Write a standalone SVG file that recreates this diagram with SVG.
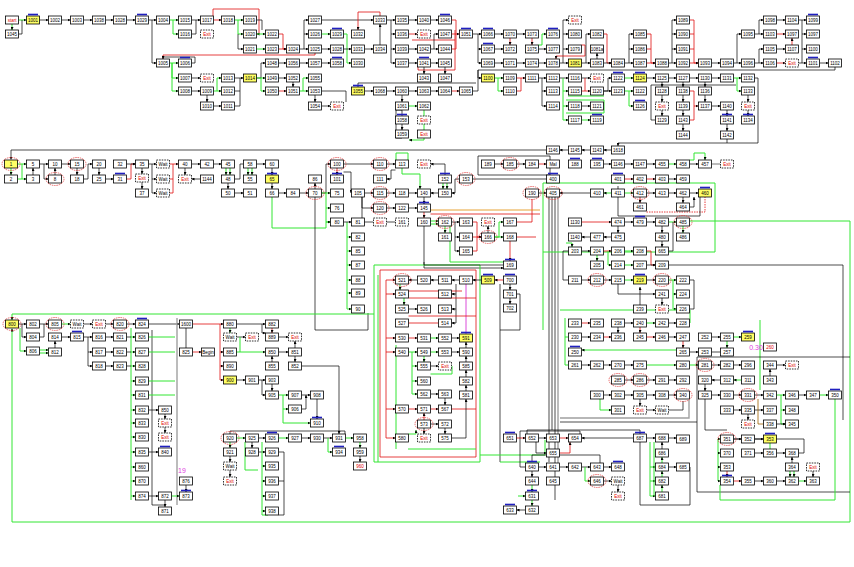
<svg xmlns="http://www.w3.org/2000/svg" xmlns:xlink="http://www.w3.org/1999/xlink" width="854" height="567" viewBox="0 0 854 567">
<style>
.n{fill:#fff;stroke:#000;stroke-width:.8}
text{font-family:"Liberation Sans",Arial,sans-serif;font-size:4.5px;text-anchor:middle;dominant-baseline:central;fill:#000}
.rt{fill:#e00000}
.pk{fill:#e040e0;font-size:7px}
.k,.kn{fill:none;stroke:#000;stroke-width:.7}
.g,.gn{fill:none;stroke:#33e633;stroke-width:1}
.r,.rn{fill:none;stroke:#e01010;stroke-width:.8}
.gy{fill:none;stroke:#a0a0a0;stroke-width:1.4}
.k,.g,.r{marker-end:url(#a)}
</style>
<defs>
<marker id="a" viewBox="0 0 6 6" refX="6" refY="3" markerWidth="3" markerHeight="3" orient="auto" markerUnits="userSpaceOnUse"><path d="M0,0L6,3L0,6z" fill="#000"/></marker>
<rect id="b" class="n" x="-6.5" y="-4" width="13" height="8"/>
<rect id="y" x="-6.5" y="-4" width="13" height="8" fill="#ffff66" stroke="#000" stroke-width=".8"/>
<rect id="d" x="-6.5" y="-4" width="13" height="8" fill="#fff" stroke="#000" stroke-width=".8" stroke-dasharray="1.6 1"/>
<ellipse id="e" rx="9" ry="6.5" fill="none" stroke="#e03030" stroke-width=".7" stroke-dasharray="1.5 .8"/>
<rect id="h" x="-5" y="-6.3" width="10" height="1.6" fill="#2020c0"/>
</defs>
<rect width="854" height="567" fill="#fff"/>
<g id="connectors">
<path class="g" d="M18.5,20H26.5"/><path class="g" d="M12,24V30"/><path class="kn" d="M18.5,34H22V20"/>
<path class="k" d="M39.5,20H48.5"/><path class="k" d="M61.5,20H70.5"/><path class="k" d="M83.5,20H92.5"/><path class="k" d="M105.5,20H113.5"/><path class="k" d="M126.5,20H135.5"/><path class="k" d="M148.5,20H156.5"/>
<path class="g" d="M169.5,20H178.5"/><path class="g" d="M173,20V34H178.5"/><path class="k" d="M152,20V63H156.5"/>
<path class="k" d="M191.5,20H200.5"/><path class="kn" d="M191.5,34H196V20"/>
<path class="r" d="M213.5,20H221.5"/><path class="r" d="M213,16V9H259V34H256.5"/>
<path class="g" d="M234.5,20H243.5"/><path class="g" d="M238,20V34H243.5"/><path class="k" d="M238,34V49H243.5"/>
<path class="kn" d="M256.5,20H262V30"/><path class="g" d="M256.5,34H265.5"/><path class="g" d="M256.5,49H265.5"/>
<path class="r" d="M278.5,34H283V49H286.5"/><path class="r" d="M278.5,49H286.5"/><path class="k" d="M299.5,49H308.5"/>
<path class="k" d="M304,49V20H308.5"/><path class="k" d="M304,34H308.5"/><path class="g" d="M321.5,34H330.5"/>
<path class="k" d="M321.5,20H373.5"/><path class="k" d="M321.5,49H330.5"/><path class="r" d="M315,53V55H163V59"/>
<path class="g" d="M169.5,63H178.5"/><path class="g" d="M172,63V78H178.5"/><path class="g" d="M172,63V91H178.5"/>
<path class="kn" d="M191.5,63H195V57H163V59"/>
<path class="k" d="M191.5,78H200.5"/><path class="k" d="M191.5,91H200.5"/><path class="k" d="M207,95V102"/>
<path class="g" d="M213.5,91H221.5"/><path class="g" d="M217,91V78H221.5"/><path class="k" d="M213.5,106H221.5"/>
<path class="kn" d="M234.5,106H240V78"/><path class="kn" d="M234.5,91H240"/><path class="k" d="M234.5,78H243.5"/>
<path class="k" d="M256.5,78H261V63H265.5"/><path class="g" d="M256.5,78H265.5"/><path class="g" d="M261,78V91H265.5"/>
<path class="k" d="M278.5,63H286.5"/><path class="k" d="M299.5,63H308.5"/><path class="k" d="M321.5,63H330.5"/>
<path class="k" d="M278.5,78H286.5"/><path class="r" d="M278.5,91H286.5"/>
<path class="g" d="M299.5,91H308.5"/><path class="g" d="M303,91V78H308.5"/><path class="k" d="M315,95V102"/><path class="k" d="M293,82V87"/>
<path class="k" d="M321.5,106H330.5"/><path class="kn" d="M321.5,91H346V102"/>
<path class="g" d="M343.5,34H347V63H351.5"/><path class="k" d="M343.5,49H351.5"/><path class="k" d="M364.5,49H373.5"/><path class="k" d="M380,45V24"/>
<path class="r" d="M358,25V30"/><path class="rn" d="M358,25V12H380V16"/>
<path class="k" d="M386.5,20H395.5"/><path class="k" d="M391,20V63H395.5"/><path class="k" d="M391,34H395.5"/><path class="k" d="M391,49H395.5"/>
<path class="k" d="M408.5,20H417.5"/><path class="r" d="M408.5,34H417.5"/><path class="k" d="M408.5,49H417.5"/><path class="k" d="M408.5,63H417.5"/>
<path class="rn" d="M412,40H455"/><path class="rn" d="M455,30V70H418V67"/>
<path class="k" d="M430.5,20H438.5"/><path class="k" d="M430.5,49H438.5"/><path class="k" d="M434,49V34H438.5"/><path class="k" d="M430.5,63H438.5"/>
<path class="k" d="M424,67V74"/><path class="k" d="M445,67V74"/>
<path class="r" d="M451.5,34H459.5"/><path class="rn" d="M451.5,49H456V20H451.5"/>
<path class="k" d="M472.5,34H481.5"/><path class="kn" d="M478,34V63"/><path class="k" d="M478,49H481.5"/><path class="k" d="M478,63H481.5"/>
<path class="k" d="M494.5,34H503.5"/><path class="k" d="M494.5,63H503.5"/><path class="k" d="M516.5,63H525.5"/><path class="k" d="M516.5,34H525.5"/>
<path class="r" d="M510,38V45"/><path class="r" d="M532,38V45"/><path class="k" d="M538.5,49H546.5"/><path class="g" d="M538.5,45H542V34H546.5"/>
<path class="k" d="M538.5,63H546.5"/><path class="k" d="M494.5,49H503.5"/>
<path class="k" d="M559.5,63H568.5"/><path class="k" d="M563,63V20H568.5"/><path class="k" d="M563,34H568.5"/><path class="k" d="M563,49H568.5"/>
<path class="r" d="M581.5,45H585V56H556V59"/>
<path class="k" d="M581.5,63H590.5"/><path class="k" d="M586,63V34H590.5"/><path class="k" d="M597,59V53"/>
<path class="r" d="M603.5,34H607V63H611.5"/><path class="k" d="M603.5,63H611.5"/>
<path class="k" d="M624.5,63H633.5"/><path class="k" d="M629,63V34H633.5"/><path class="k" d="M629,49H633.5"/>
<path class="r" d="M646.5,34H651V63H655.5"/><path class="rn" d="M646.5,49H651"/><path class="r" d="M646.5,63H655.5"/>
<path class="k" d="M668.5,63H676.5"/><path class="k" d="M672,63V20H676.5"/><path class="k" d="M672,34H676.5"/><path class="k" d="M672,49H676.5"/>
<path class="r" d="M689.5,20H694V63H698.5"/><path class="rn" d="M689.5,34H694"/><path class="rn" d="M689.5,49H694"/><path class="r" d="M689.5,63H698.5"/>
<path class="k" d="M711.5,63H720.5"/><path class="k" d="M733.5,63H741.5"/><path class="k" d="M737,63V34H741.5"/>
<path class="k" d="M754.5,34H763.5"/><path class="k" d="M759,34V20H763.5"/><path class="k" d="M754.5,63H763.5"/><path class="k" d="M759,63V49H763.5"/>
<path class="k" d="M776.5,20H785.5"/><path class="r" d="M776.5,34H785.5"/><path class="k" d="M776.5,49H785.5"/><path class="r" d="M792,45V38"/><path class="r" d="M776.5,63H785.5"/>
<path class="k" d="M798.5,20H806.5"/><path class="kn" d="M802,20V63"/><path class="k" d="M802,34H806.5"/><path class="k" d="M802,49H806.5"/><path class="k" d="M798.5,63H806.5"/>
<path class="k" d="M819.5,63H828.5"/><path class="k" d="M835,67V70H478V78H481.5"/>
<path class="g" d="M494.5,78H503.5"/><path class="g" d="M498,78V91H503.5"/><path class="r" d="M516.5,78H525.5"/><path class="rn" d="M516.5,91H521V78"/>
<path class="k" d="M538.5,78H546.5"/><path class="k" d="M542,78V106H546.5"/><path class="k" d="M542,91H546.5"/>
<path class="k" d="M559.5,78H568.5"/><path class="g" d="M563,78V120H568.5"/><path class="g" d="M563,91H568.5"/><path class="g" d="M563,106H568.5"/>
<path class="k" d="M581.5,78H590.5"/><path class="r" d="M581.5,91H590.5"/><path class="rn" d="M585,78V91"/><path class="k" d="M581.5,106H590.5"/><path class="g" d="M581.5,120H590.5"/>
<path class="gn" d="M566,100H604V113H566"/><path class="gn" d="M568,96H604"/>
<path class="k" d="M603.5,91H608V78H611.5"/><path class="k" d="M603.5,91H611.5"/>
<path class="g" d="M624.5,78H633.5"/><path class="g" d="M624.5,91H633.5"/><path class="g" d="M629,91V106H633.5"/>
<path class="k" d="M646.5,78H655.5"/><path class="k" d="M668.5,78H676.5"/><path class="k" d="M689.5,78H698.5"/><path class="k" d="M711.5,78H720.5"/>
<path class="g" d="M733.5,78H741.5"/><path class="g" d="M737,78V91H741.5"/>
<path class="k" d="M662,82V87"/><path class="k" d="M662,95V102"/><path class="k" d="M662,110V116"/>
<path class="kn" d="M655.5,120H651V85H736"/>
<path class="k" d="M683,82V87"/><path class="k" d="M683,95V102"/><path class="k" d="M683,110V116"/><path class="k" d="M683,124V131"/>
<path class="r" d="M689.5,91H694V106H698.5"/><path class="rn" d="M689.5,120H694V106"/>
<path class="k" d="M705,82V87"/><path class="k" d="M705,95V102"/><path class="k" d="M711.5,106H720.5"/><path class="k" d="M727,110V116"/><path class="k" d="M727,124V131"/>
<path class="k" d="M748,95V102"/><path class="k" d="M748,110V116"/>
<path class="kn" d="M754.5,78H758V143H727"/><path class="k" d="M727,139V143H618V146"/>
<path class="k" d="M611.5,150H603.5"/><path class="k" d="M590.5,150H581.5"/><path class="k" d="M568.5,150H559.5"/>
<path class="k" d="M546.5,150H11V159.5"/>
<path class="kn" d="M402,116V110H396V138H402"/><path class="k" d="M402,124V130"/><path class="g" d="M424,110V140H409"/>
<path class="k" d="M408.5,91H417.5"/><path class="k" d="M386.5,91H395.5"/><path class="k" d="M364.5,91H373.5"/><path class="k" d="M430.5,91H438.5"/><path class="r" d="M451.5,91H459.5"/>
<path class="k" d="M402,95V102"/><path class="g" d="M408.5,106H417.5"/><path class="kn" d="M472.5,91H478V70"/>
<path class="kn" d="M358,87V83H476"/>
<!-- band 2 -->
<path class="g" d="M17.5,164H26.5"/><path class="g" d="M11,168V175"/><path class="g" d="M17.5,179H26.5"/><path class="gn" d="M22,164V179"/><path class="k" d="M33,175V168"/>
<path class="k" d="M39.5,164H48.5"/><path class="k" d="M44,164V179H48.5"/><path class="k" d="M55,175V168"/>
<path class="k" d="M61.5,164H70.5"/><path class="k" d="M77,168V175"/><path class="k" d="M83.5,179H88V164H92.5"/><path class="k" d="M99,168V175"/>
<path class="k" d="M105.5,179H113.5"/><path class="r" d="M126.5,179H131V164H135.5"/><path class="k" d="M126.5,164H135.5"/>
<path class="k" d="M142,168V174"/><path class="k" d="M148.5,164H156.5"/><path class="k" d="M152,164V193H156.5"/><path class="k" d="M152,179H156.5"/><path class="k" d="M142,182V189"/>
<path class="r" d="M169.5,164H178.5"/><path class="rn" d="M169.5,193H173V164"/><path class="rn" d="M169.5,179H173"/>
<path class="k" d="M191.5,164H200.5"/><path class="k" d="M185,168V175"/><path class="k" d="M200.5,179H191.5"/>
<path class="k" d="M213.5,164H221.5"/><path class="g" d="M226,168V175"/><path class="g" d="M230,168V175"/>
<path class="k" d="M228,183V189"/><path class="k" d="M234.5,193H243.5"/><path class="kn" d="M234.5,179H240V164H243.5"/>
<path class="g" d="M248,168V175"/><path class="g" d="M252,168V175"/><path class="k" d="M256.5,164H265.5"/>
<path class="k" d="M272,168V175"/><path class="k" d="M272,183V189"/><path class="k" d="M278.5,193H286.5"/><path class="k" d="M299.5,193H308.5"/>
<path class="g" d="M272,197V228H326V222H330.5"/>
<path class="k" d="M315,189V183"/><path class="k" d="M321.5,193H326V164H330.5"/><path class="g" d="M321.5,193H330.5"/><path class="g" d="M326,193V222H330.5"/><path class="g" d="M326,208H330.5"/>
<path class="k" d="M343.5,164H373.5"/><path class="r" d="M337,168V175"/><path class="k" d="M343.5,172H351V193"/>
<path class="kn" d="M315,197V330H368V313"/><path class="g" d="M347,222V309H351.5"/><path class="g" d="M347,237H351.5"/><path class="g" d="M347,251H351.5"/><path class="g" d="M347,265H351.5"/><path class="g" d="M347,280H351.5"/><path class="g" d="M347,293H351.5"/><path class="k" d="M343.5,222H351.5"/>
<path class="k" d="M386.5,164H395.5"/><path class="k" d="M395.5,170H391V179H386.5"/><path class="gn" d="M396,160V153H408V160"/>
<path class="k" d="M445,175V164H430.5"/>
<path class="g" d="M402,168V174H420V189"/>
<path class="k" d="M364.5,193H373.5"/><path class="k" d="M386.5,193H395.5"/><path class="k" d="M408.5,193H417.5"/>
<path class="k" d="M362,197V208H373.5"/><path class="k" d="M386.5,208H395.5"/><path class="k" d="M408.5,208H417.5"/><path class="k" d="M424,197V204"/>
<path class="kn" d="M362,197V222H373.5"/><path class="kn" d="M386.5,222H395.5"/>
<path class="g" d="M443,183V189"/><path class="g" d="M447,183V189"/><path class="k" d="M438.5,193H430.5"/>
<path class="k" d="M459.5,179H455V193H451.5"/><path class="kn" d="M472.5,179H550"/>
<path class="r" d="M424,212V218"/><path class="g" d="M430.5,221H438.5"/><path class="g" d="M430.5,224H438.5"/><path class="g" d="M445,226V233"/>
<path class="k" d="M451.5,222H459.5"/><path class="k" d="M455,222V251H459.5"/><path class="k" d="M455,237H459.5"/>
<path class="r" d="M472.5,222H477V237H481.5"/><path class="r" d="M472.5,237H481.5"/><path class="rn" d="M472.5,251H477V237"/>
<path class="k" d="M488,233V226"/><path class="g" d="M494.5,237H499V222H503.5"/><path class="g" d="M494.5,237H503.5"/>
<path class="r" d="M510,241V261"/><path class="rn" d="M516.5,222H532V199"/><path class="rn" d="M516.5,237H536"/>
<path class="k" d="M424,226V268H503.5"/><path class="gn" d="M450,226V262H503"/>
<path d="M430.5,210H540" fill="none" stroke="#e08a00" stroke-width=".8"/><path class="rn" d="M430.5,214H540"/>
<path class="k" d="M494.5,164H503.5"/><path class="k" d="M516.5,164H525.5"/><path class="r" d="M538.5,164H546.5"/>
<path class="kn" d="M478,156H550V175H478Z"/>
<path class="k" d="M538.5,193H546.5"/>
<path class="kn" d="M549,197V462"/><path class="kn" d="M552,197V430"/><path class="kn" d="M555,197V500"/><path class="gy" d="M558,197V470"/><path class="gn" d="M543,183V330"/>
<path class="k" d="M603.5,164H611.5"/><path class="k" d="M624.5,164H633.5"/><path class="k" d="M646.5,164H655.5"/><path class="g" d="M668.5,164H676.5"/><path class="k" d="M689.5,164H698.5"/><path class="gy" d="M711.5,164H720.5"/>
<path class="g" d="M689.5,160H694V153H705V160"/>
<path class="r" d="M624.5,179H633.5"/><path class="r" d="M646.5,179H655.5"/><path class="k" d="M668.5,179H676.5"/>
<path class="k" d="M590.5,193H559.5"/><path class="g" d="M611.5,193H603.5"/>
<path class="g" d="M624.5,193H633.5"/><path class="k" d="M646.5,193H655.5"/><path class="k" d="M668.5,193H676.5"/><path class="k" d="M689.5,193H698.5"/><path class="k" d="M683,197V203"/><path class="k" d="M689.5,207H694V197"/>
<path class="r" d="M640,197V203"/><path d="M646.5,212H705V197" fill="none" stroke="#e01010" stroke-width=".8" stroke-dasharray="1.5 1"/>
<path class="kn" d="M618,186V216H700V197"/>
<path class="gn" d="M543,183H715V252H543"/>
<path class="r" d="M581.5,222H611.5"/><path class="k" d="M611.5,237H603.5"/><path class="k" d="M590.5,237H581.5"/>
<path class="k" d="M624.5,222H633.5"/><path class="k" d="M646.5,222H655.5"/><path class="g" d="M668.5,222H676.5"/><path class="g" d="M683,226V233"/><path class="k" d="M662,226V233"/><path class="k" d="M662,241V247"/><path class="k" d="M618,226V233"/>
<path class="kn" d="M668.5,251H673V222"/>
<path class="g" d="M689.5,221H850V522H12V328.5"/>
<path class="k" d="M581.5,251H590.5"/><path class="r" d="M603.5,251H611.5"/><path class="g" d="M624.5,251H633.5"/><path class="r" d="M646.5,251H651V265H655.5"/>
<path class="g" d="M597,255V261"/><path class="g" d="M624.5,265H633.5"/><path class="g" d="M608,251V265H611.5"/><path class="k" d="M646.5,265H655.5"/>
<path class="kn" d="M668.5,265H843V420"/>
<path class="k" d="M581.5,280H590.5"/><path class="k" d="M603.5,280H611.5"/><path class="g" d="M624.5,280H633.5"/><path class="k" d="M646.5,280H655.5"/>
<path class="g" d="M668.5,280H676.5"/><path class="g" d="M673,280V309H676.5"/><path class="g" d="M673,294H676.5"/>
<path class="k" d="M662,298V305"/><path class="k" d="M618,284V294H655.5"/><path class="k" d="M640,305V287"/><path class="kn" d="M689.5,280H694V309H689.5"/>
<path class="kn" d="M568.5,251H563V280H568.5"/><path class="g" d="M566,243H572V247"/>
<!-- middle cluster -->
<path class="rn" d="M380,270H476V457H380Z"/><path class="gn" d="M374,265H480V462H374Z"/><path class="kn" d="M500,284V462"/>
<path class="kn" d="M424,262V265H503.5"/>
<path class="r" d="M503.5,280H494.5"/><path class="k" d="M481.5,280H472.5"/><path class="k" d="M459.5,280H451.5"/><path class="k" d="M438.5,280H430.5"/><path class="k" d="M417.5,280H408.5"/>
<path d="M466,284V334" fill="none" stroke="#d020d0" stroke-width=".8"/>
<path class="k" d="M456,284V323H451.5"/><path class="k" d="M456,294H451.5"/><path class="k" d="M456,309H451.5"/>
<path class="g" d="M400,284V290"/><path class="k" d="M408.5,309H417.5"/><path class="g" d="M404,298V305"/>
<path class="rn" d="M408.5,291H462"/><path class="rn" d="M408.5,298H476"/><path class="rn" d="M408.5,323H438.5"/><path class="rn" d="M408.5,316H476"/>
<path class="r" d="M408.5,338H417.5"/><path class="g" d="M430.5,338H438.5"/><path class="k" d="M451.5,338H459.5"/>
<path class="g" d="M408.5,352H417.5"/><path class="g" d="M430.5,352H438.5"/><path class="k" d="M451.5,352H459.5"/>
<path class="g" d="M424,356V362"/><path class="g" d="M412,352V394H417.5"/><path class="g" d="M412,366H417.5"/><path class="g" d="M412,381H417.5"/>
<path class="k" d="M430.5,366H438.5"/><path class="gn" d="M430.5,374H452V366"/>
<path class="k" d="M466,391V385"/><path class="k" d="M466,377V370"/><path class="k" d="M466,362V356"/><path class="k" d="M466,348V342"/>
<path class="k" d="M430.5,394H438.5"/><path class="k" d="M445,398V405"/>
<path class="r" d="M408.5,409H417.5"/><path class="r" d="M430.5,409H438.5"/><path class="rn" d="M451.5,409H476"/>
<path class="k" d="M430.5,424H438.5"/><path class="r" d="M424,420V413"/><path class="k" d="M424,428V434"/><path class="k" d="M445,428V434"/>
<path class="k" d="M451.5,438H466V399"/><path class="g" d="M408.5,434H416V430"/>
<path class="rn" d="M386,280V438"/><path class="r" d="M386,280H395.5"/><path class="r" d="M386,294H395.5"/><path class="r" d="M386,338H395.5"/><path class="r" d="M386,409H395.5"/><path class="r" d="M386,438H395.5"/><path class="r" d="M386,352H395.5"/>
<path class="gn" d="M378,275V462"/><path class="gn" d="M408,449H476"/><path class="gn" d="M396,345V449"/>
<path class="k" d="M510,284V290"/><path class="k" d="M510,298V304"/><path class="kn" d="M516.5,294H520V330H500"/>
<path class="gn" d="M480,455H545V440"/><path class="gn" d="M500,462H540"/>
<!-- bottom mid -->
<path class="r" d="M516.5,438H525.5"/><path class="k" d="M538.5,438H546.5"/><path class="k" d="M536,442V453H546.5"/><path class="r" d="M559.5,453H570V442"/><path class="r" d="M559.5,438H568.5"/>
<path class="k" d="M633.5,438H581.5"/>
<path class="k" d="M538.5,467H546.5"/><path class="k" d="M559.5,467H568.5"/><path class="k" d="M581.5,467H590.5"/><path class="g" d="M585,467V481H590.5"/>
<path class="k" d="M603.5,467H611.5"/><path class="k" d="M603.5,481H611.5"/><path class="k" d="M618,485V492"/>
<path class="k" d="M532,471V477"/><path class="g" d="M532,485V492"/><path class="g" d="M532,500V506"/><path class="k" d="M525.5,510H516.5"/>
<path class="g" d="M518,496H525.5"/><path class="kn" d="M525.5,467H520V431H580V442"/>
<path class="kn" d="M532,461V455H600V467"/>
<path class="k" d="M646.5,438H655.5"/><path class="k" d="M668.5,438H676.5"/><path class="k" d="M662,449V442"/><path class="g" d="M662,463V457"/><path class="k" d="M668.5,467H676.5"/><path class="g" d="M662,477V471"/><path class="g" d="M662,492V485"/>
<path class="gn" d="M650,442V496"/><path class="g" d="M650,496H655.5"/><path class="g" d="M650,481H655.5"/><path class="g" d="M650,467H655.5"/><path class="gn" d="M654,442V496"/>
<path class="kn" d="M640,442V505H690V467"/><path class="kn" d="M527,438V430H640V434"/>
<!-- lower right -->
<path class="r" d="M581.5,323H590.5"/><path class="k" d="M624.5,323H633.5"/><path class="g" d="M646.5,323H655.5"/><path class="k" d="M668.5,323H676.5"/>
<path class="k" d="M581.5,337H590.5"/><path class="r" d="M603.5,337H611.5"/><path class="k" d="M618,327V333"/>
<path class="r" d="M640,327V333"/><path class="r" d="M646.5,337H655.5"/><path class="k" d="M668.5,337H676.5"/><path class="r" d="M683,341V348"/>
<path class="k" d="M711.5,337H720.5"/><path class="g" d="M733.5,337H741.5"/><path class="g" d="M727,341V348"/>
<path class="g" d="M676.5,350H581.5"/><path class="gn" d="M565,318V365H568.5"/><path class="gn" d="M565,337H568.5"/><path class="gn" d="M560,310H690V323"/>
<path class="k" d="M689.5,352H698.5"/><path class="kn" d="M711.5,352H720.5"/>
<path class="k" d="M581.5,365H590.5"/><path class="k" d="M603.5,365H611.5"/><path class="k" d="M624.5,365H633.5"/><path class="g" d="M646.5,365H676.5"/>
<path class="g" d="M689.5,365H698.5"/><path class="k" d="M711.5,365H720.5"/><path class="k" d="M733.5,365H741.5"/>
<path class="k" d="M776.5,365H785.5"/><path class="k" d="M770,376V369"/>
<path class="k" d="M624.5,380H633.5"/><path class="k" d="M646.5,380H655.5"/><path class="k" d="M668.5,380H676.5"/>
<path class="k" d="M720.5,380H711.5"/><path class="g" d="M741.5,380H733.5"/>
<path class="k" d="M603.5,395H611.5"/><path class="g" d="M600,399V410H611.5"/><path class="k" d="M624.5,395H633.5"/><path class="k" d="M646.5,395H655.5"/><path class="k" d="M668.5,395H676.5"/>
<path class="k" d="M640,399V406"/><path class="k" d="M646.5,410H655.5"/><path class="kn" d="M668.5,410H683V401"/>
<path class="gy" d="M689,400V418H560"/>
<path class="k" d="M711.5,395H720.5"/><path class="k" d="M733.5,395H741.5"/><path class="k" d="M754.5,395H763.5"/><path class="g" d="M776.5,395H785.5"/><path class="k" d="M798.5,395H806.5"/><path class="g" d="M819.5,395H828.5"/>
<path class="g" d="M781,395V410H785.5"/><path class="g" d="M781,410V424H785.5"/>
<path class="k" d="M733.5,410H741.5"/><path class="k" d="M754.5,410H763.5"/><path class="k" d="M776.5,424H785.5"/><path class="k" d="M748,414V420"/>
<path class="k" d="M705,384V391"/><path class="kn" d="M705,399V430H727"/>
<path d="M758,399V424H763.5" fill="none" stroke="#a06000" stroke-width=".8"/>
<path class="gn" d="M760,320V390"/>
<path class="k" d="M733.5,439H741.5"/><path class="k" d="M754.5,439H763.5"/>
<path class="g" d="M718,439V481H720.5"/><path class="g" d="M718,453H720.5"/><path class="g" d="M718,467H720.5"/><path class="g" d="M718,439H720.5"/>
<path class="r" d="M727,471V477"/><path class="r" d="M733.5,481H741.5"/><path class="k" d="M754.5,481H763.5"/><path class="k" d="M776.5,481H785.5"/><path class="g" d="M798.5,481H806.5"/>
<path class="g" d="M790,471V477"/><path class="g" d="M794,471V477"/><path class="k" d="M776.5,453H785.5"/><path class="k" d="M792,463V457"/><path class="k" d="M754.5,453H763.5"/>
<path class="k" d="M813,471V477"/><path class="kn" d="M798.5,453H804V439H727"/>
<path class="kn" d="M560,422H697V492H850"/><path class="kn" d="M697,357H850"/><path class="kn" d="M697,357V422"/>
<path class="gn" d="M835,399V500H720V485"/><path class="gn" d="M770,443V452"/>
<!-- left lower -->
<path class="g" d="M374,314H12V320"/>
<path class="k" d="M18.5,324H26.5"/><path class="k" d="M39.5,324H48.5"/><path class="g" d="M61.5,324H70.5"/><path class="k" d="M83.5,324H92.5"/><path class="k" d="M105.5,324H113.5"/><path class="k" d="M126.5,324H135.5"/><path class="k" d="M148.5,324H179.5"/>
<path class="k" d="M22,324V337H26.5"/><path class="kn" d="M39.5,337H44V324"/>
<path class="g" d="M20,328V351H26.5"/><path class="g" d="M39.5,350H48.5"/><path class="g" d="M39.5,353H48.5"/>
<path class="k" d="M55,348V341"/><path class="k" d="M61.5,337H70.5"/><path class="k" d="M83.5,337H92.5"/><path class="k" d="M88,337V366H92.5"/><path class="k" d="M88,352H92.5"/>
<path class="k" d="M105.5,337H113.5"/><path class="k" d="M105.5,352H113.5"/><path class="k" d="M105.5,366H113.5"/>
<path class="gn" d="M131,328V500"/><path class="g" d="M131,337H135.5"/><path class="g" d="M131,352H135.5"/><path class="g" d="M131,366H135.5"/><path class="g" d="M131,381H135.5"/><path class="g" d="M131,395H135.5"/><path class="g" d="M131,410H135.5"/><path class="g" d="M131,423H135.5"/><path class="g" d="M131,437H135.5"/><path class="g" d="M131,452H135.5"/><path class="g" d="M131,467H135.5"/><path class="g" d="M131,481H135.5"/><path class="g" d="M131,496H135.5"/>
<path class="kn" d="M126.5,337H131"/><path class="kn" d="M126.5,352H131"/><path class="kn" d="M126.5,366H131"/>
<path class="kn" d="M152,330V505H165"/><path class="gy" d="M177,318V505"/>
<path class="k" d="M148.5,410H158.5"/><path class="k" d="M165,414V419"/><path class="k" d="M165,427V433"/><path class="k" d="M148.5,452H158.5"/>
<path class="k" d="M165,500V507"/><path class="g" d="M171.5,496H179.5"/><path class="k" d="M186,485V492"/><path class="k" d="M148.5,496H158.5"/>
<path class="gn" d="M148.5,337H175"/><path class="gn" d="M148.5,352H175"/><path class="gn" d="M148.5,381H175"/><path class="gn" d="M148.5,395H175"/>
<path class="r" d="M192.5,324H223.5"/><path class="rn" d="M220,324V380"/><path class="r" d="M220,352H223.5"/><path class="r" d="M220,366H223.5"/><path class="r" d="M220,380H223.5"/>
<path class="r" d="M192.5,352H201.5"/><path class="kn" d="M186,328V348"/>
<path class="k" d="M236.5,324H265.5"/><path class="k" d="M262,324V333H265.5"/><path class="g" d="M230,328V333"/><path class="k" d="M236.5,337H245.5"/>
<path class="r" d="M272,328V333"/><path class="k" d="M278.5,337H288.5"/>
<path class="k" d="M278.5,352H288.5"/><path class="k" d="M272,362V356"/><path class="g" d="M236.5,352H265.5"/><path class="gn" d="M240,337V352"/>
<path class="k" d="M295,356V362"/><path class="k" d="M295,348V341"/><path class="k" d="M301.5,366H339V434"/>
<path class="k" d="M236.5,380H245.5"/><path class="k" d="M258.5,380H265.5"/><path class="k" d="M262,380V395H265.5"/><path class="k" d="M272,384V391"/>
<path class="g" d="M278.5,395H288.5"/><path class="g" d="M283,395V409H288.5"/><path class="k" d="M301.5,395H310.5"/><path class="k" d="M301.5,409H306V395"/>
<path class="k" d="M317,399V419"/><path class="g" d="M283,409V423H310.5"/>
<path class="g" d="M236.5,438H245.5"/><path class="k" d="M258.5,438H265.5"/><path class="g" d="M278.5,438H288.5"/><path class="k" d="M301.5,438H310.5"/><path class="k" d="M323.5,438H332.5"/><path class="g" d="M345.5,438H353.5"/>
<path class="g" d="M360,442V448"/><path class="k" d="M360,456V462"/><path class="g" d="M328,438V452H332.5"/>
<path class="g" d="M230,442V448"/><path class="k" d="M230,456V462"/><path class="k" d="M230,470V477"/>
<path class="k" d="M252,442V448"/><path class="k" d="M258.5,452H265.5"/>
<path class="gn" d="M262,442V515H268"/><path class="g" d="M262,466H265.5"/><path class="g" d="M262,481H265.5"/><path class="g" d="M262,496H265.5"/><path class="g" d="M262,511H265.5"/>
<path class="kn" d="M278.5,452H284V515H278.5"/><path class="kn" d="M278.5,481H284"/>
<path class="kn" d="M230,434V431H345V434"/><path class="gn" d="M245,442V470H258"/>
</g>
<g id="nodes">
<g id="nstart" transform="translate(12,20)"><use href="#b"/><text class="rt">start</text></g>
<g id="n1001" transform="translate(33,20)"><use href="#y"/><use href="#h"/><text>1001</text></g>
<g id="n1045" transform="translate(12,34)"><use href="#b"/><text>1045</text></g>
<g id="n1002" transform="translate(55,20)"><use href="#b"/><text>1002</text></g>
<g id="n1003" transform="translate(77,20)"><use href="#b"/><text>1003</text></g>
<g id="n1038" transform="translate(99,20)"><use href="#b"/><text>1038</text></g>
<g id="n1028" transform="translate(120,20)"><use href="#b"/><text>1028</text></g>
<g id="n1029" transform="translate(142,20)"><use href="#b"/><use href="#h"/><text>1029</text></g>
<g id="n1004" transform="translate(163,20)"><use href="#b"/><text>1004</text></g>
<g id="n1015" transform="translate(185,20)"><use href="#b"/><text>1015</text></g>
<g id="n1016" transform="translate(185,34)"><use href="#b"/><text>1016</text></g>
<g id="n1017" transform="translate(207,20)"><use href="#b"/><text>1017</text></g>
<g id="x1" transform="translate(207,34)"><use href="#d"/><text class="rt">Exit</text></g>
<g id="n1018" transform="translate(228,20)"><use href="#b"/><text>1018</text></g>
<g id="n1019" transform="translate(250,20)"><use href="#b"/><text>1019</text></g>
<g id="n1020" transform="translate(250,34)"><use href="#b"/><text>1020</text></g>
<g id="n1021" transform="translate(250,49)"><use href="#b"/><text>1021</text></g>
<g id="n1022" transform="translate(272,34)"><use href="#b"/><text>1022</text></g>
<g id="n1023" transform="translate(272,49)"><use href="#b"/><text>1023</text></g>
<g id="n1024" transform="translate(293,49)"><use href="#b"/><text>1024</text></g>
<g id="n1027" transform="translate(315,20)"><use href="#b"/><text>1027</text></g>
<g id="n1026" transform="translate(315,34)"><use href="#b"/><text>1026</text></g>
<g id="n1025" transform="translate(315,49)"><use href="#b"/><text>1025</text></g>
<g id="n1029b" transform="translate(337,34)"><use href="#b"/><use href="#h"/><text>1029</text></g>
<g id="n1028b" transform="translate(337,49)"><use href="#b"/><text>1028</text></g>
<g id="n1005" transform="translate(163,63)"><use href="#b"/><text>1005</text></g>
<g id="n1006" transform="translate(185,63)"><use href="#b"/><use href="#h"/><text>1006</text></g>
<g id="n1007" transform="translate(185,78)"><use href="#b"/><text>1007</text></g>
<g id="x2" transform="translate(207,78)"><use href="#d"/><text class="rt">Exit</text></g>
<g id="n1008" transform="translate(185,91)"><use href="#b"/><text>1008</text></g>
<g id="n1009" transform="translate(207,91)"><use href="#b"/><text>1009</text></g>
<g id="n1010" transform="translate(207,106)"><use href="#b"/><text>1010</text></g>
<g id="n1011" transform="translate(228,106)"><use href="#b"/><text>1011</text></g>
<g id="n1013" transform="translate(228,78)"><use href="#b"/><text>1013</text></g>
<g id="n1012" transform="translate(228,91)"><use href="#b"/><text>1012</text></g>
<g id="n1014" transform="translate(250,78)"><use href="#y"/><text>1014</text></g>
<g id="n1048" transform="translate(272,63)"><use href="#b"/><text>1048</text></g>
<g id="n1049" transform="translate(272,78)"><use href="#b"/><text>1049</text></g>
<g id="n1050" transform="translate(272,91)"><use href="#b"/><text>1050</text></g>
<g id="n1056" transform="translate(293,63)"><use href="#b"/><text>1056</text></g>
<g id="n1052" transform="translate(293,78)"><use href="#b"/><text>1052</text></g>
<g id="n1051" transform="translate(293,91)"><use href="#b"/><text>1051</text></g>
<g id="n1057" transform="translate(315,63)"><use href="#b"/><text>1057</text></g>
<g id="n1055" transform="translate(315,78)"><use href="#b"/><text>1055</text></g>
<g id="n1053" transform="translate(315,91)"><use href="#b"/><text>1053</text></g>
<g id="n1054" transform="translate(315,106)"><use href="#b"/><text>1054</text></g>
<g id="n1058" transform="translate(337,63)"><use href="#b"/><use href="#h"/><text>1058</text></g>
<g id="x3" transform="translate(337,106)"><use href="#d"/><text class="rt">Exit</text></g>
<g id="n1033" transform="translate(380,20)"><use href="#b"/><text>1033</text></g>
<g id="n1032" transform="translate(358,34)"><use href="#b"/><text>1032</text></g>
<g id="n1031" transform="translate(358,49)"><use href="#b"/><text>1031</text></g>
<g id="n1034" transform="translate(380,49)"><use href="#b"/><text>1034</text></g>
<g id="n1030" transform="translate(358,63)"><use href="#b"/><text>1030</text></g>
<g id="n1035" transform="translate(402,20)"><use href="#b"/><text>1035</text></g>
<g id="n1036" transform="translate(402,34)"><use href="#b"/><text>1036</text></g>
<g id="n1039" transform="translate(402,49)"><use href="#b"/><text>1039</text></g>
<g id="n1037" transform="translate(402,63)"><use href="#b"/><text>1037</text></g>
<g id="n1040" transform="translate(424,20)"><use href="#b"/><text>1040</text></g>
<g id="x4" transform="translate(424,34)"><use href="#d"/><text class="rt">Exit</text></g>
<g id="n1042" transform="translate(424,49)"><use href="#b"/><text>1042</text></g>
<g id="n1041" transform="translate(424,63)"><use href="#b"/><use href="#h"/><text>1041</text></g>
<g id="n1043" transform="translate(424,78)"><use href="#b"/><text>1043</text></g>
<g id="n1046" transform="translate(445,20)"><use href="#b"/><use href="#h"/><text>1046</text></g>
<g id="n1047" transform="translate(445,34)"><use href="#b"/><text>1047</text></g>
<g id="n1044" transform="translate(445,49)"><use href="#b"/><text>1044</text></g>
<g id="n1045b" transform="translate(445,63)"><use href="#b"/><text>1045</text></g>
<g id="n1047b" transform="translate(445,78)"><use href="#b"/><text>1047</text></g>
<g id="n1051b" transform="translate(466,34)"><use href="#b"/><use href="#h"/><text>1051</text></g>
<g id="n1066" transform="translate(488,34)"><use href="#b"/><use href="#h"/><text>1066</text></g>
<g id="n1067" transform="translate(488,49)"><use href="#b"/><use href="#h"/><text>1067</text></g>
<g id="n1069" transform="translate(488,63)"><use href="#b"/><text>1069</text></g>
<g id="n1070" transform="translate(510,34)"><use href="#b"/><text>1070</text></g>
<g id="n1072" transform="translate(510,49)"><use href="#b"/><text>1072</text></g>
<g id="n1071" transform="translate(510,63)"><use href="#b"/><text>1071</text></g>
<g id="n1073" transform="translate(532,34)"><use href="#b"/><text>1073</text></g>
<g id="n1075" transform="translate(532,49)"><use href="#b"/><text>1075</text></g>
<g id="n1074" transform="translate(532,63)"><use href="#b"/><text>1074</text></g>
<g id="n1100" transform="translate(488,78)"><use href="#y"/><text>1100</text></g>
<g id="n1109" transform="translate(510,78)"><use href="#b"/><text>1109</text></g>
<g id="n1110" transform="translate(510,91)"><use href="#b"/><text>1110</text></g>
<g id="n1111" transform="translate(532,78)"><use href="#b"/><text>1111</text></g>
<g id="n1055b" transform="translate(358,91)"><use href="#y"/><use href="#h"/><text>1055</text></g>
<g id="n1068" transform="translate(380,91)"><use href="#b"/><text>1068</text></g>
<g id="n1060" transform="translate(402,91)"><use href="#b"/><text>1060</text></g>
<g id="n1061" transform="translate(402,106)"><use href="#b"/><text>1061</text></g>
<g id="n1063" transform="translate(424,91)"><use href="#b"/><text>1063</text></g>
<g id="n1062" transform="translate(424,106)"><use href="#b"/><text>1062</text></g>
<g id="n1064" transform="translate(445,91)"><use href="#b"/><text>1064</text></g>
<g id="n1065" transform="translate(466,91)"><use href="#b"/><text>1065</text></g>
<g id="n1058b" transform="translate(402,120)"><use href="#b"/><use href="#h"/><text>1058</text></g>
<g id="x5" transform="translate(424,120)"><use href="#d"/><text class="rt">Exit</text></g>
<g id="n1059" transform="translate(402,134)"><use href="#b"/><text>1059</text></g>
<g id="x6" transform="translate(424,134)"><use href="#b"/><text class="rt">Exit</text></g>
<g id="n1076" transform="translate(553,34)"><use href="#b"/><use href="#h"/><text>1076</text></g>
<g id="n1077" transform="translate(553,49)"><use href="#b"/><text>1077</text></g>
<g id="n1078" transform="translate(553,63)"><use href="#b"/><text>1078</text></g>
<g id="x7" transform="translate(575,20)"><use href="#d"/><text class="rt">Exit</text></g>
<g id="n1080" transform="translate(575,34)"><use href="#b"/><text>1080</text></g>
<g id="n1079" transform="translate(575,49)"><use href="#b"/><text>1079</text></g>
<g id="n1081" transform="translate(575,63)"><use href="#y"/><text>1081</text></g>
<g id="n1082" transform="translate(597,34)"><use href="#b"/><text>1082</text></g>
<g id="n1081a" transform="translate(597,49)"><use href="#b"/><text>1081a</text></g>
<g id="n1083" transform="translate(597,63)"><use href="#b"/><text>1083</text></g>
<g id="n1084" transform="translate(618,63)"><use href="#b"/><text>1084</text></g>
<g id="n1085" transform="translate(640,34)"><use href="#b"/><text>1085</text></g>
<g id="n1086" transform="translate(640,49)"><use href="#b"/><text>1086</text></g>
<g id="n1087" transform="translate(640,63)"><use href="#b"/><text>1087</text></g>
<g id="n1088" transform="translate(662,63)"><use href="#b"/><text>1088</text></g>
<g id="n1089" transform="translate(683,20)"><use href="#b"/><text>1089</text></g>
<g id="n1090" transform="translate(683,34)"><use href="#b"/><text>1090</text></g>
<g id="n1091" transform="translate(683,49)"><use href="#b"/><text>1091</text></g>
<g id="n1092" transform="translate(683,63)"><use href="#b"/><text>1092</text></g>
<g id="n1093" transform="translate(705,63)"><use href="#b"/><text>1093</text></g>
<g id="n1094" transform="translate(727,63)"><use href="#b"/><text>1094</text></g>
<g id="n1095" transform="translate(748,34)"><use href="#b"/><text>1095</text></g>
<g id="n1096" transform="translate(748,63)"><use href="#b"/><text>1096</text></g>
<g id="n1098" transform="translate(770,20)"><use href="#b"/><text>1098</text></g>
<g id="n1103" transform="translate(770,34)"><use href="#b"/><text>1103</text></g>
<g id="n1105" transform="translate(770,49)"><use href="#b"/><text>1105</text></g>
<g id="n1106" transform="translate(770,63)"><use href="#b"/><text>1106</text></g>
<g id="n1104" transform="translate(792,20)"><use href="#b"/><text>1104</text></g>
<g id="n1097" transform="translate(792,34)"><use href="#b"/><text>1097</text></g>
<g id="n1107" transform="translate(792,49)"><use href="#b"/><text>1107</text></g>
<g id="x8" transform="translate(792,63)"><use href="#d"/><text class="rt">Exit</text></g>
<g id="n1099" transform="translate(813,20)"><use href="#b"/><use href="#h"/><text>1099</text></g>
<g id="n1097b" transform="translate(813,34)"><use href="#b"/><text>1097</text></g>
<g id="n1100b" transform="translate(813,49)"><use href="#b"/><text>1100</text></g>
<g id="n1101" transform="translate(813,63)"><use href="#b"/><use href="#h"/><text>1101</text></g>
<g id="n1102" transform="translate(835,63)"><use href="#b"/><text>1102</text></g>
<g id="n1112" transform="translate(553,78)"><use href="#b"/><text>1112</text></g>
<g id="n1116" transform="translate(575,78)"><use href="#b"/><text>1116</text></g>
<g id="x9" transform="translate(597,78)"><use href="#d"/><text class="rt">Exit</text></g>
<g id="n1122" transform="translate(618,78)"><use href="#b"/><use href="#h"/><text>1122</text></g>
<g id="n1124" transform="translate(640,78)"><use href="#y"/><use href="#h"/><text>1124</text></g>
<g id="n1125" transform="translate(662,78)"><use href="#b"/><text>1125</text></g>
<g id="n1127" transform="translate(683,78)"><use href="#b"/><text>1127</text></g>
<g id="n1130" transform="translate(705,78)"><use href="#b"/><text>1130</text></g>
<g id="n1131" transform="translate(727,78)"><use href="#b"/><text>1131</text></g>
<g id="n1132" transform="translate(748,78)"><use href="#b"/><text>1132</text></g>
<g id="n1113" transform="translate(553,91)"><use href="#b"/><text>1113</text></g>
<g id="n1115" transform="translate(575,91)"><use href="#b"/><text>1115</text></g>
<g id="n1120" transform="translate(597,91)"><use href="#b"/><text>1120</text></g>
<g id="n1123" transform="translate(618,91)"><use href="#b"/><text>1123</text></g>
<g id="n1122b" transform="translate(640,91)"><use href="#b"/><text>1122</text></g>
<g id="n1128" transform="translate(662,91)"><use href="#b"/><text>1128</text></g>
<g id="n1138" transform="translate(683,91)"><use href="#b"/><text>1138</text></g>
<g id="n1136" transform="translate(705,91)"><use href="#b"/><text>1136</text></g>
<g id="n1133" transform="translate(748,91)"><use href="#b"/><text>1133</text></g>
<g id="n1114" transform="translate(553,106)"><use href="#b"/><text>1114</text></g>
<g id="n1118" transform="translate(575,106)"><use href="#b"/><text>1118</text></g>
<g id="n1121" transform="translate(597,106)"><use href="#b"/><text>1121</text></g>
<g id="n1126" transform="translate(640,106)"><use href="#b"/><use href="#h"/><text>1126</text></g>
<g id="x10" transform="translate(662,106)"><use href="#d"/><text class="rt">Exit</text></g>
<g id="n1139" transform="translate(683,106)"><use href="#b"/><text>1139</text></g>
<g id="n1137" transform="translate(705,106)"><use href="#b"/><text>1137</text></g>
<g id="n1140" transform="translate(727,106)"><use href="#b"/><text>1140</text></g>
<g id="x11" transform="translate(748,106)"><use href="#d"/><text class="rt">Exit</text></g>
<g id="n1117" transform="translate(575,120)"><use href="#b"/><text>1117</text></g>
<g id="n1119" transform="translate(597,120)"><use href="#b"/><use href="#h"/><text>1119</text></g>
<g id="n1129" transform="translate(662,120)"><use href="#b"/><text>1129</text></g>
<g id="n1143b" transform="translate(683,120)"><use href="#b"/><text>1143</text></g>
<g id="n1141" transform="translate(727,120)"><use href="#b"/><use href="#h"/><text>1141</text></g>
<g id="n1134" transform="translate(748,120)"><use href="#b"/><use href="#h"/><text>1134</text></g>
<g id="n1144" transform="translate(683,135)"><use href="#b"/><text>1144</text></g>
<g id="n1142" transform="translate(727,135)"><use href="#b"/><text>1142</text></g>
<g id="n1" transform="translate(11,164)"><use href="#y"/><use href="#e"/><text>1</text></g>
<g id="n2" transform="translate(11,179)"><use href="#b"/><text>2</text></g>
<g id="n5" transform="translate(33,164)"><use href="#b"/><text>5</text></g>
<g id="n3" transform="translate(33,179)"><use href="#b"/><text>3</text></g>
<g id="n10" transform="translate(55,164)"><use href="#b"/><text>10</text></g>
<g id="n8" transform="translate(55,179)"><use href="#b"/><use href="#e"/><text>8</text></g>
<g id="n15" transform="translate(77,164)"><use href="#b"/><use href="#e"/><text>15</text></g>
<g id="n18" transform="translate(77,179)"><use href="#b"/><text>18</text></g>
<g id="n20" transform="translate(99,164)"><use href="#b"/><text>20</text></g>
<g id="n25" transform="translate(99,179)"><use href="#b"/><text>25</text></g>
<g id="n32" transform="translate(120,164)"><use href="#b"/><text>32</text></g>
<g id="n31" transform="translate(120,179)"><use href="#b"/><use href="#h"/><text>31</text></g>
<g id="n35" transform="translate(142,164)"><use href="#b"/><text>35</text></g>
<g id="x12" transform="translate(142,178)"><use href="#d"/><text class="rt">Exit</text></g>
<g id="n37" transform="translate(142,193)"><use href="#b"/><text>37</text></g>
<g id="w1" transform="translate(163,164)"><use href="#d"/><text>Wait</text></g>
<g id="w2" transform="translate(163,179)"><use href="#d"/><text>Wait</text></g>
<g id="w3" transform="translate(163,193)"><use href="#d"/><text>Wait</text></g>
<g id="n40" transform="translate(185,164)"><use href="#b"/><text>40</text></g>
<g id="x13" transform="translate(185,179)"><use href="#d"/><text class="rt">Exit</text></g>
<g id="n42" transform="translate(207,164)"><use href="#b"/><text>42</text></g>
<g id="n1144b" transform="translate(207,179)"><use href="#b"/><text>1144</text></g>
<g id="n45" transform="translate(228,164)"><use href="#b"/><text>45</text></g>
<g id="n48" transform="translate(228,179)"><use href="#b"/><text>48</text></g>
<g id="n50" transform="translate(228,193)"><use href="#b"/><text>50</text></g>
<g id="n51" transform="translate(250,193)"><use href="#b"/><text>51</text></g>
<g id="n58" transform="translate(250,164)"><use href="#b"/><text>58</text></g>
<g id="n55" transform="translate(250,179)"><use href="#b"/><text>55</text></g>
<g id="n60" transform="translate(272,164)"><use href="#b"/><text>60</text></g>
<g id="n65" transform="translate(272,179)"><use href="#y"/><use href="#h"/><text>65</text></g>
<g id="n66" transform="translate(272,193)"><use href="#b"/><text>66</text></g>
<g id="n84" transform="translate(293,193)"><use href="#b"/><text>84</text></g>
<g id="n70" transform="translate(315,193)"><use href="#b"/><use href="#e"/><text>70</text></g>
<g id="n86" transform="translate(315,179)"><use href="#b"/><text>86</text></g>
<g id="n100" transform="translate(337,164)"><use href="#b"/><use href="#e"/><text>100</text></g>
<g id="n101" transform="translate(337,179)"><use href="#b"/><use href="#h"/><text>101</text></g>
<g id="n75" transform="translate(337,193)"><use href="#b"/><text>75</text></g>
<g id="n76" transform="translate(337,208)"><use href="#b"/><text>76</text></g>
<g id="n80" transform="translate(337,222)"><use href="#b"/><text>80</text></g>
<g id="n81" transform="translate(358,222)"><use href="#b"/><text>81</text></g>
<g id="n82" transform="translate(358,237)"><use href="#b"/><text>82</text></g>
<g id="n85" transform="translate(358,251)"><use href="#b"/><text>85</text></g>
<g id="n87" transform="translate(358,265)"><use href="#b"/><text>87</text></g>
<g id="n88" transform="translate(358,280)"><use href="#b"/><text>88</text></g>
<g id="n89" transform="translate(358,293)"><use href="#b"/><text>89</text></g>
<g id="n90" transform="translate(358,309)"><use href="#b"/><text>90</text></g>
<g id="n105" transform="translate(358,193)"><use href="#b"/><text>105</text></g>
<g id="n110" transform="translate(380,164)"><use href="#b"/><use href="#e"/><text>110</text></g>
<g id="n111" transform="translate(380,179)"><use href="#b"/><text>111</text></g>
<g id="n115" transform="translate(380,193)"><use href="#b"/><use href="#e"/><text>115</text></g>
<g id="n120" transform="translate(380,208)"><use href="#b"/><use href="#e"/><text>120</text></g>
<g id="x14" transform="translate(380,222)"><use href="#d"/><text class="rt">Exit</text></g>
<g id="n113" transform="translate(402,164)"><use href="#b"/><text>113</text></g>
<g id="n118" transform="translate(402,193)"><use href="#b"/><text>118</text></g>
<g id="n122" transform="translate(402,208)"><use href="#b"/><text>122</text></g>
<g id="w4" transform="translate(402,222)"><use href="#d"/><text>161</text></g>
<g id="x15" transform="translate(424,164)"><use href="#d"/><text class="rt">Exit</text></g>
<g id="n140" transform="translate(424,193)"><use href="#b"/><text>140</text></g>
<g id="n145" transform="translate(424,208)"><use href="#b"/><use href="#h"/><text>145</text></g>
<g id="n160" transform="translate(424,222)"><use href="#b"/><text>160</text></g>
<g id="n152" transform="translate(445,179)"><use href="#b"/><use href="#h"/><text>152</text></g>
<g id="n150" transform="translate(445,193)"><use href="#b"/><text>150</text></g>
<g id="n162" transform="translate(445,222)"><use href="#b"/><use href="#e"/><text>162</text></g>
<g id="n161" transform="translate(445,237)"><use href="#b"/><text>161</text></g>
<g id="n153" transform="translate(466,179)"><use href="#b"/><use href="#e"/><text>153</text></g>
<g id="n163" transform="translate(466,222)"><use href="#b"/><text>163</text></g>
<g id="n164" transform="translate(466,237)"><use href="#b"/><text>164</text></g>
<g id="n165" transform="translate(466,251)"><use href="#b"/><text>165</text></g>
<g id="x16" transform="translate(488,222)"><use href="#d"/><text class="rt">Exit</text></g>
<g id="n166" transform="translate(488,237)"><use href="#b"/><use href="#e"/><text>166</text></g>
<g id="n167" transform="translate(510,222)"><use href="#b"/><text>167</text></g>
<g id="n168" transform="translate(510,237)"><use href="#b"/><text>168</text></g>
<g id="n169" transform="translate(510,265)"><use href="#b"/><use href="#h"/><text>169</text></g>
<g id="n189" transform="translate(488,164)"><use href="#b"/><text>189</text></g>
<g id="n185" transform="translate(510,164)"><use href="#b"/><use href="#e"/><text>185</text></g>
<g id="n184" transform="translate(532,164)"><use href="#b"/><text>184</text></g>
<g id="n190" transform="translate(532,193)"><use href="#b"/><use href="#e"/><text>190</text></g>
<g id="n1146" transform="translate(553,150)"><use href="#b"/><text>1146</text></g>
<g id="n1145" transform="translate(575,150)"><use href="#b"/><text>1145</text></g>
<g id="n1143" transform="translate(597,150)"><use href="#b"/><text>1143</text></g>
<g id="n1618" transform="translate(618,150)"><use href="#b"/><text>1618</text></g>
<g id="nMal" transform="translate(553,164)"><use href="#b"/><text>Mal</text></g>
<g id="n188" transform="translate(575,164)"><use href="#b"/><use href="#h"/><text>188</text></g>
<g id="n195" transform="translate(597,164)"><use href="#b"/><use href="#h"/><text>195</text></g>
<g id="n1146b" transform="translate(618,164)"><use href="#b"/><text>1146</text></g>
<g id="n1147" transform="translate(640,164)"><use href="#b"/><text>1147</text></g>
<g id="n455" transform="translate(662,164)"><use href="#b"/><text>455</text></g>
<g id="n458" transform="translate(683,164)"><use href="#b"/><text>458</text></g>
<g id="n457" transform="translate(705,164)"><use href="#b"/><text>457</text></g>
<g id="x17" transform="translate(727,164)"><use href="#d"/><text class="rt">Exit</text></g>
<g id="n400" transform="translate(553,179)"><use href="#b"/><use href="#h"/><text>400</text></g>
<g id="n401" transform="translate(618,179)"><use href="#b"/><use href="#h"/><text>401</text></g>
<g id="n402" transform="translate(640,179)"><use href="#b"/><text>402</text></g>
<g id="n403" transform="translate(662,179)"><use href="#b"/><text>403</text></g>
<g id="n459" transform="translate(683,179)"><use href="#b"/><text>459</text></g>
<g id="n405" transform="translate(553,193)"><use href="#b"/><use href="#e"/><text>405</text></g>
<g id="n410" transform="translate(597,193)"><use href="#b"/><text>410</text></g>
<g id="n411" transform="translate(618,193)"><use href="#b"/><text>411</text></g>
<g id="n412" transform="translate(640,193)"><use href="#b"/><use href="#e"/><text>412</text></g>
<g id="n413" transform="translate(662,193)"><use href="#b"/><text>413</text></g>
<g id="n462" transform="translate(683,193)"><use href="#b"/><text>462</text></g>
<g id="n460" transform="translate(705,193)"><use href="#y"/><use href="#h"/><text>460</text></g>
<g id="n461" transform="translate(640,207)"><use href="#b"/><text>461</text></g>
<g id="n464" transform="translate(683,207)"><use href="#b"/><text>464</text></g>
<g id="n1130b" transform="translate(575,222)"><use href="#b"/><text>1130</text></g>
<g id="n1140b" transform="translate(575,237)"><use href="#b"/><text>1140</text></g>
<g id="n477" transform="translate(597,237)"><use href="#b"/><text>477</text></g>
<g id="n474" transform="translate(618,222)"><use href="#b"/><text>474</text></g>
<g id="n475" transform="translate(618,237)"><use href="#b"/><text>475</text></g>
<g id="n479" transform="translate(640,222)"><use href="#b"/><use href="#h"/><text>479</text></g>
<g id="n482" transform="translate(662,222)"><use href="#b"/><text>482</text></g>
<g id="n485" transform="translate(683,222)"><use href="#b"/><use href="#e"/><text>485</text></g>
<g id="n480" transform="translate(662,237)"><use href="#b"/><text>480</text></g>
<g id="n486" transform="translate(683,237)"><use href="#b"/><text>486</text></g>
<g id="n665" transform="translate(662,251)"><use href="#b"/><text>665</text></g>
<g id="n203" transform="translate(575,251)"><use href="#b"/><text>203</text></g>
<g id="n204" transform="translate(597,251)"><use href="#b"/><text>204</text></g>
<g id="n206" transform="translate(618,251)"><use href="#b"/><text>206</text></g>
<g id="n208" transform="translate(640,251)"><use href="#b"/><text>208</text></g>
<g id="n205" transform="translate(597,265)"><use href="#b"/><text>205</text></g>
<g id="n214" transform="translate(618,265)"><use href="#b"/><text>214</text></g>
<g id="n207" transform="translate(640,265)"><use href="#b"/><text>207</text></g>
<g id="n209" transform="translate(662,265)"><use href="#b"/><text>209</text></g>
<g id="n211" transform="translate(575,280)"><use href="#b"/><text>211</text></g>
<g id="n212" transform="translate(597,280)"><use href="#b"/><use href="#e"/><text>212</text></g>
<g id="n215" transform="translate(618,280)"><use href="#b"/><text>215</text></g>
<g id="n219" transform="translate(640,280)"><use href="#y"/><use href="#h"/><text>219</text></g>
<g id="n220" transform="translate(662,280)"><use href="#b"/><use href="#e"/><text>220</text></g>
<g id="n222" transform="translate(683,280)"><use href="#b"/><text>222</text></g>
<g id="n241" transform="translate(662,294)"><use href="#b"/><text>241</text></g>
<g id="n224" transform="translate(683,294)"><use href="#b"/><text>224</text></g>
<g id="n239" transform="translate(640,309)"><use href="#b"/><text>239</text></g>
<g id="x18" transform="translate(662,309)"><use href="#d"/><text class="rt">Exit</text></g>
<g id="n226" transform="translate(683,309)"><use href="#b"/><text>226</text></g>
<g id="n700" transform="translate(510,280)"><use href="#b"/><use href="#h"/><text>700</text></g>
<g id="n521" transform="translate(402,280)"><use href="#b"/><use href="#e"/><text>521</text></g>
<g id="n520" transform="translate(424,280)"><use href="#b"/><text>520</text></g>
<g id="n511" transform="translate(445,280)"><use href="#b"/><text>511</text></g>
<g id="n510" transform="translate(466,280)"><use href="#b"/><text>510</text></g>
<g id="n509" transform="translate(488,280)"><use href="#y"/><use href="#h"/><text>509</text></g>
<g id="n524" transform="translate(402,294)"><use href="#b"/><text>524</text></g>
<g id="n512" transform="translate(445,294)"><use href="#b"/><text>512</text></g>
<g id="n525" transform="translate(402,309)"><use href="#b"/><text>525</text></g>
<g id="n526" transform="translate(424,309)"><use href="#b"/><text>526</text></g>
<g id="n513" transform="translate(445,309)"><use href="#b"/><text>513</text></g>
<g id="n527" transform="translate(402,323)"><use href="#b"/><text>527</text></g>
<g id="n514" transform="translate(445,323)"><use href="#b"/><text>514</text></g>
<g id="n530" transform="translate(402,338)"><use href="#b"/><text>530</text></g>
<g id="n531" transform="translate(424,338)"><use href="#b"/><text>531</text></g>
<g id="n552" transform="translate(445,338)"><use href="#b"/><text>552</text></g>
<g id="n591" transform="translate(466,338)"><use href="#y"/><use href="#h"/><text>591</text></g>
<g id="n540" transform="translate(402,352)"><use href="#b"/><text>540</text></g>
<g id="n549" transform="translate(424,352)"><use href="#b"/><text>549</text></g>
<g id="n553" transform="translate(445,352)"><use href="#b"/><text>553</text></g>
<g id="n590" transform="translate(466,352)"><use href="#b"/><text>590</text></g>
<g id="n555" transform="translate(424,366)"><use href="#b"/><text>555</text></g>
<g id="x19" transform="translate(445,366)"><use href="#d"/><text class="rt">Exit</text></g>
<g id="n585" transform="translate(466,366)"><use href="#b"/><text>585</text></g>
<g id="n560" transform="translate(424,381)"><use href="#b"/><text>560</text></g>
<g id="n582" transform="translate(466,381)"><use href="#b"/><text>582</text></g>
<g id="n562" transform="translate(424,394)"><use href="#b"/><text>562</text></g>
<g id="n563" transform="translate(445,394)"><use href="#b"/><text>563</text></g>
<g id="n581" transform="translate(466,395)"><use href="#b"/><text>581</text></g>
<g id="n570" transform="translate(402,409)"><use href="#b"/><text>570</text></g>
<g id="n571" transform="translate(424,409)"><use href="#b"/><text>571</text></g>
<g id="n567" transform="translate(445,409)"><use href="#b"/><text>567</text></g>
<g id="n573" transform="translate(424,424)"><use href="#b"/><use href="#e"/><text>573</text></g>
<g id="n572" transform="translate(445,424)"><use href="#b"/><text>572</text></g>
<g id="n580" transform="translate(402,438)"><use href="#b"/><text>580</text></g>
<g id="x20" transform="translate(424,438)"><use href="#d"/><text class="rt">Exit</text></g>
<g id="n575" transform="translate(445,438)"><use href="#b"/><text>575</text></g>
<g id="n701" transform="translate(510,294)"><use href="#b"/><text>701</text></g>
<g id="n702" transform="translate(510,308)"><use href="#b"/><text>702</text></g>
<g id="n651" transform="translate(510,438)"><use href="#b"/><use href="#h"/><text>651</text></g>
<g id="n652" transform="translate(532,438)"><use href="#b"/><text>652</text></g>
<g id="n653" transform="translate(553,438)"><use href="#b"/><text>653</text></g>
<g id="n654" transform="translate(575,438)"><use href="#b"/><text>654</text></g>
<g id="n655" transform="translate(553,453)"><use href="#b"/><text>655</text></g>
<g id="n687" transform="translate(640,438)"><use href="#b"/><use href="#h"/><text>687</text></g>
<g id="n688" transform="translate(662,438)"><use href="#b"/><text>688</text></g>
<g id="n689" transform="translate(683,439)"><use href="#b"/><text>689</text></g>
<g id="n686" transform="translate(662,453)"><use href="#b"/><text>686</text></g>
<g id="n684" transform="translate(662,467)"><use href="#b"/><text>684</text></g>
<g id="n685" transform="translate(683,467)"><use href="#b"/><text>685</text></g>
<g id="n682" transform="translate(662,481)"><use href="#b"/><text>682</text></g>
<g id="n681" transform="translate(662,496)"><use href="#b"/><text>681</text></g>
<g id="n640" transform="translate(532,467)"><use href="#b"/><use href="#h"/><text>640</text></g>
<g id="n641" transform="translate(553,467)"><use href="#b"/><text>641</text></g>
<g id="n642" transform="translate(575,467)"><use href="#b"/><text>642</text></g>
<g id="n643" transform="translate(597,467)"><use href="#b"/><text>643</text></g>
<g id="n648" transform="translate(618,467)"><use href="#b"/><use href="#h"/><text>648</text></g>
<g id="n644" transform="translate(532,481)"><use href="#b"/><text>644</text></g>
<g id="n645" transform="translate(553,481)"><use href="#b"/><text>645</text></g>
<g id="n646" transform="translate(597,481)"><use href="#b"/><use href="#e"/><text>646</text></g>
<g id="w5" transform="translate(618,481)"><use href="#d"/><text>Wait</text></g>
<g id="x21" transform="translate(618,496)"><use href="#d"/><text class="rt">Exit</text></g>
<g id="n631" transform="translate(532,496)"><use href="#b"/><use href="#h"/><text>631</text></g>
<g id="n632" transform="translate(532,510)"><use href="#b"/><text>632</text></g>
<g id="n633" transform="translate(510,510)"><use href="#b"/><use href="#h"/><text>633</text></g>
<g id="n233" transform="translate(575,323)"><use href="#b"/><text>233</text></g>
<g id="n235" transform="translate(597,323)"><use href="#b"/><text>235</text></g>
<g id="n238" transform="translate(618,323)"><use href="#b"/><text>238</text></g>
<g id="n240" transform="translate(640,323)"><use href="#b"/><text>240</text></g>
<g id="n242" transform="translate(662,323)"><use href="#b"/><text>242</text></g>
<g id="n228" transform="translate(683,323)"><use href="#b"/><text>228</text></g>
<g id="n230" transform="translate(575,337)"><use href="#b"/><text>230</text></g>
<g id="n234" transform="translate(597,337)"><use href="#b"/><text>234</text></g>
<g id="n236" transform="translate(618,337)"><use href="#b"/><text>236</text></g>
<g id="n245" transform="translate(640,337)"><use href="#b"/><text>245</text></g>
<g id="n246" transform="translate(662,337)"><use href="#b"/><text>246</text></g>
<g id="n247" transform="translate(683,337)"><use href="#b"/><text>247</text></g>
<g id="n252" transform="translate(705,337)"><use href="#b"/><text>252</text></g>
<g id="n255" transform="translate(727,337)"><use href="#b"/><text>255</text></g>
<g id="n259" transform="translate(748,337)"><use href="#y"/><use href="#h"/><text>259</text></g>
<g id="n250" transform="translate(575,352)"><use href="#b"/><use href="#h"/><text>250</text></g>
<g id="n265" transform="translate(683,352)"><use href="#b"/><text>265</text></g>
<g id="n253" transform="translate(705,352)"><use href="#b"/><text>253</text></g>
<g id="n257" transform="translate(727,352)"><use href="#b"/><text>257</text></g>
<g id="n260" transform="translate(770,347)"><use href="#b"/><text class="rt">260</text></g>
<g id="n261" transform="translate(575,365)"><use href="#b"/><text>261</text></g>
<g id="n262" transform="translate(597,365)"><use href="#b"/><text>262</text></g>
<g id="n270" transform="translate(618,365)"><use href="#b"/><text>270</text></g>
<g id="n275" transform="translate(640,365)"><use href="#b"/><text>275</text></g>
<g id="n280" transform="translate(683,365)"><use href="#b"/><text>280</text></g>
<g id="n281" transform="translate(705,365)"><use href="#b"/><use href="#e"/><text>281</text></g>
<g id="n282" transform="translate(727,365)"><use href="#b"/><text>282</text></g>
<g id="n296" transform="translate(748,365)"><use href="#b"/><text>296</text></g>
<g id="n344" transform="translate(770,365)"><use href="#b"/><text>344</text></g>
<g id="x22" transform="translate(792,365)"><use href="#d"/><text class="rt">Exit</text></g>
<g id="n285" transform="translate(618,380)"><use href="#b"/><use href="#e"/><text>285</text></g>
<g id="n286" transform="translate(640,380)"><use href="#b"/><use href="#e"/><text>286</text></g>
<g id="n291" transform="translate(662,380)"><use href="#b"/><text>291</text></g>
<g id="n292" transform="translate(683,380)"><use href="#b"/><text>292</text></g>
<g id="n320" transform="translate(705,380)"><use href="#b"/><text>320</text></g>
<g id="n312" transform="translate(727,380)"><use href="#b"/><text>312</text></g>
<g id="n311" transform="translate(748,380)"><use href="#b"/><text>311</text></g>
<g id="n343" transform="translate(770,380)"><use href="#b"/><text>343</text></g>
<g id="n300" transform="translate(597,395)"><use href="#b"/><text>300</text></g>
<g id="n302" transform="translate(618,395)"><use href="#b"/><text>302</text></g>
<g id="n305" transform="translate(640,395)"><use href="#b"/><text>305</text></g>
<g id="n308" transform="translate(662,395)"><use href="#b"/><text>308</text></g>
<g id="n340" transform="translate(683,395)"><use href="#b"/><use href="#e"/><text>340</text></g>
<g id="n325" transform="translate(705,395)"><use href="#b"/><text>325</text></g>
<g id="n330" transform="translate(727,395)"><use href="#b"/><text>330</text></g>
<g id="n331" transform="translate(748,395)"><use href="#b"/><use href="#e"/><text>331</text></g>
<g id="n342" transform="translate(770,395)"><use href="#b"/><text>342</text></g>
<g id="n346" transform="translate(792,395)"><use href="#b"/><text>346</text></g>
<g id="n347" transform="translate(813,395)"><use href="#b"/><text>347</text></g>
<g id="n350" transform="translate(835,395)"><use href="#b"/><use href="#h"/><text>350</text></g>
<g id="n301" transform="translate(618,410)"><use href="#b"/><text>301</text></g>
<g id="x23" transform="translate(640,410)"><use href="#d"/><text class="rt">Exit</text></g>
<g id="w6" transform="translate(662,410)"><use href="#d"/><text>Wait</text></g>
<g id="n333" transform="translate(727,410)"><use href="#b"/><text>333</text></g>
<g id="n335" transform="translate(748,410)"><use href="#b"/><text>335</text></g>
<g id="n337" transform="translate(770,410)"><use href="#b"/><text>337</text></g>
<g id="n348" transform="translate(792,410)"><use href="#b"/><text>348</text></g>
<g id="x24" transform="translate(748,424)"><use href="#d"/><text class="rt">Exit</text></g>
<g id="n338" transform="translate(770,424)"><use href="#b"/><text>338</text></g>
<g id="n345" transform="translate(792,424)"><use href="#b"/><text>345</text></g>
<g id="n351" transform="translate(727,439)"><use href="#b"/><use href="#e"/><text>351</text></g>
<g id="n352" transform="translate(748,439)"><use href="#b"/><text>352</text></g>
<g id="n353" transform="translate(770,439)"><use href="#y"/><use href="#h"/><text>353</text></g>
<g id="n370" transform="translate(727,453)"><use href="#b"/><text>370</text></g>
<g id="n371" transform="translate(748,453)"><use href="#b"/><text>371</text></g>
<g id="n356" transform="translate(770,453)"><use href="#b"/><text>356</text></g>
<g id="n368" transform="translate(792,453)"><use href="#b"/><text>368</text></g>
<g id="n353b" transform="translate(727,467)"><use href="#b"/><text>353</text></g>
<g id="n364" transform="translate(792,467)"><use href="#b"/><text>364</text></g>
<g id="x25" transform="translate(813,467)"><use href="#d"/><text class="rt">Exit</text></g>
<g id="n354" transform="translate(727,481)"><use href="#b"/><use href="#h"/><text>354</text></g>
<g id="n355" transform="translate(748,481)"><use href="#b"/><text>355</text></g>
<g id="n360" transform="translate(770,481)"><use href="#b"/><text>360</text></g>
<g id="n362" transform="translate(792,481)"><use href="#b"/><text>362</text></g>
<g id="n363" transform="translate(813,481)"><use href="#b"/><text>363</text></g>
<g id="n800" transform="translate(12,324)"><use href="#y"/><use href="#e"/><text>800</text></g>
<g id="n802" transform="translate(33,324)"><use href="#b"/><text>802</text></g>
<g id="n804" transform="translate(33,337)"><use href="#b"/><text>804</text></g>
<g id="n806" transform="translate(33,351)"><use href="#b"/><text>806</text></g>
<g id="n805" transform="translate(55,324)"><use href="#b"/><use href="#e"/><text>805</text></g>
<g id="n814" transform="translate(55,337)"><use href="#b"/><text>814</text></g>
<g id="n812" transform="translate(55,352)"><use href="#b"/><text>812</text></g>
<g id="w7" transform="translate(77,324)"><use href="#d"/><text>Wait</text></g>
<g id="x26" transform="translate(99,324)"><use href="#d"/><text class="rt">Exit</text></g>
<g id="n815" transform="translate(77,337)"><use href="#b"/><use href="#h"/><text>815</text></g>
<g id="n816" transform="translate(99,337)"><use href="#b"/><text>816</text></g>
<g id="n817" transform="translate(99,352)"><use href="#b"/><text>817</text></g>
<g id="n818" transform="translate(99,366)"><use href="#b"/><text>818</text></g>
<g id="n820" transform="translate(120,324)"><use href="#b"/><use href="#e"/><text>820</text></g>
<g id="n821" transform="translate(120,337)"><use href="#b"/><text>821</text></g>
<g id="n822" transform="translate(120,352)"><use href="#b"/><text>822</text></g>
<g id="n823" transform="translate(120,366)"><use href="#b"/><text>823</text></g>
<g id="c1" transform="translate(142,324)"><use href="#b"/><use href="#h"/><text>824</text></g>
<g id="c2" transform="translate(142,337)"><use href="#b"/><text>826</text></g>
<g id="c3" transform="translate(142,352)"><use href="#b"/><text>827</text></g>
<g id="c4" transform="translate(142,366)"><use href="#b"/><text>828</text></g>
<g id="c5" transform="translate(142,381)"><use href="#b"/><text>829</text></g>
<g id="c6" transform="translate(142,395)"><use href="#b"/><text>831</text></g>
<g id="c7" transform="translate(142,410)"><use href="#b"/><text>832</text></g>
<g id="c8" transform="translate(142,423)"><use href="#b"/><text>833</text></g>
<g id="n830" transform="translate(142,437)"><use href="#b"/><text>830</text></g>
<g id="c9" transform="translate(142,452)"><use href="#b"/><text>835</text></g>
<g id="n860" transform="translate(142,467)"><use href="#b"/><text>860</text></g>
<g id="c10" transform="translate(142,481)"><use href="#b"/><text>870</text></g>
<g id="c11" transform="translate(142,496)"><use href="#b"/><text>874</text></g>
<g id="n850" transform="translate(165,410)"><use href="#b"/><text>850</text></g>
<g id="x27" transform="translate(165,423)"><use href="#d"/><text class="rt">Exit</text></g>
<g id="x28" transform="translate(165,437)"><use href="#d"/><text class="rt">Exit</text></g>
<g id="n840" transform="translate(165,452)"><use href="#b"/><use href="#h"/><text>840</text></g>
<g id="n872" transform="translate(165,496)"><use href="#b"/><text>872</text></g>
<g id="n871" transform="translate(165,511)"><use href="#b"/><text>871</text></g>
<g id="n876" transform="translate(186,481)"><use href="#b"/><text>876</text></g>
<g id="n873" transform="translate(186,496)"><use href="#b"/><use href="#h"/><text>873</text></g>
<g id="n826" transform="translate(186,324)"><use href="#b"/><text>1600</text></g>
<g id="n825" transform="translate(186,352)"><use href="#b"/><text>825</text></g>
<g id="n827" transform="translate(208,352)"><use href="#b"/><text>Begin</text></g>
<g id="n880" transform="translate(230,324)"><use href="#b"/><text>880</text></g>
<g id="w8" transform="translate(230,337)"><use href="#d"/><text>Wait</text></g>
<g id="n885" transform="translate(230,352)"><use href="#b"/><text>885</text></g>
<g id="n890" transform="translate(230,366)"><use href="#b"/><text>890</text></g>
<g id="n900" transform="translate(230,380)"><use href="#y"/><text>900</text></g>
<g id="x29" transform="translate(252,337)"><use href="#d"/><text class="rt">Exit</text></g>
<g id="n882" transform="translate(272,324)"><use href="#b"/><text>882</text></g>
<g id="n889" transform="translate(272,337)"><use href="#b"/><text>889</text></g>
<g id="n850b" transform="translate(272,352)"><use href="#b"/><text>850</text></g>
<g id="n855" transform="translate(272,366)"><use href="#b"/><text>855</text></g>
<g id="n901" transform="translate(252,380)"><use href="#b"/><text>901</text></g>
<g id="n903" transform="translate(272,380)"><use href="#b"/><text>903</text></g>
<g id="n905" transform="translate(272,395)"><use href="#b"/><text>905</text></g>
<g id="x30" transform="translate(295,337)"><use href="#d"/><text class="rt">Exit</text></g>
<g id="n851" transform="translate(295,352)"><use href="#b"/><text>851</text></g>
<g id="n852" transform="translate(295,366)"><use href="#b"/><text>852</text></g>
<g id="n907" transform="translate(295,395)"><use href="#b"/><text>907</text></g>
<g id="n906" transform="translate(295,409)"><use href="#b"/><text>906</text></g>
<g id="n908" transform="translate(317,395)"><use href="#b"/><text>908</text></g>
<g id="n910" transform="translate(317,423)"><use href="#b"/><use href="#h"/><text>910</text></g>
<g id="n920" transform="translate(230,438)"><use href="#b"/><use href="#e"/><text>920</text></g>
<g id="n925" transform="translate(252,438)"><use href="#b"/><text>925</text></g>
<g id="n926" transform="translate(272,438)"><use href="#b"/><use href="#h"/><text>926</text></g>
<g id="n927" transform="translate(295,438)"><use href="#b"/><text>927</text></g>
<g id="n930" transform="translate(317,438)"><use href="#b"/><text>930</text></g>
<g id="n931" transform="translate(339,438)"><use href="#b"/><text>931</text></g>
<g id="n958" transform="translate(360,438)"><use href="#b"/><text>958</text></g>
<g id="n921" transform="translate(230,452)"><use href="#b"/><text>921</text></g>
<g id="n928" transform="translate(252,452)"><use href="#b"/><text>928</text></g>
<g id="n929" transform="translate(272,452)"><use href="#b"/><text>929</text></g>
<g id="n934" transform="translate(339,452)"><use href="#b"/><use href="#h"/><text>934</text></g>
<g id="n959" transform="translate(360,452)"><use href="#b"/><text>959</text></g>
<g id="w9" transform="translate(230,466)"><use href="#d"/><text>Wait</text></g>
<g id="n935" transform="translate(272,466)"><use href="#b"/><text>935</text></g>
<g id="n960" transform="translate(360,466)"><use href="#b"/><text class="rt">960</text></g>
<g id="x31" transform="translate(230,481)"><use href="#d"/><text class="rt">Exit</text></g>
<g id="n936" transform="translate(272,481)"><use href="#b"/><text>936</text></g>
<g id="n937" transform="translate(272,496)"><use href="#b"/><text>937</text></g>
<g id="n938" transform="translate(272,511)"><use href="#b"/><text>938</text></g>
</g>
<text class="pk" x="182" y="470">19</text>
<text class="pk" x="756" y="347">0.30</text>
</svg>
